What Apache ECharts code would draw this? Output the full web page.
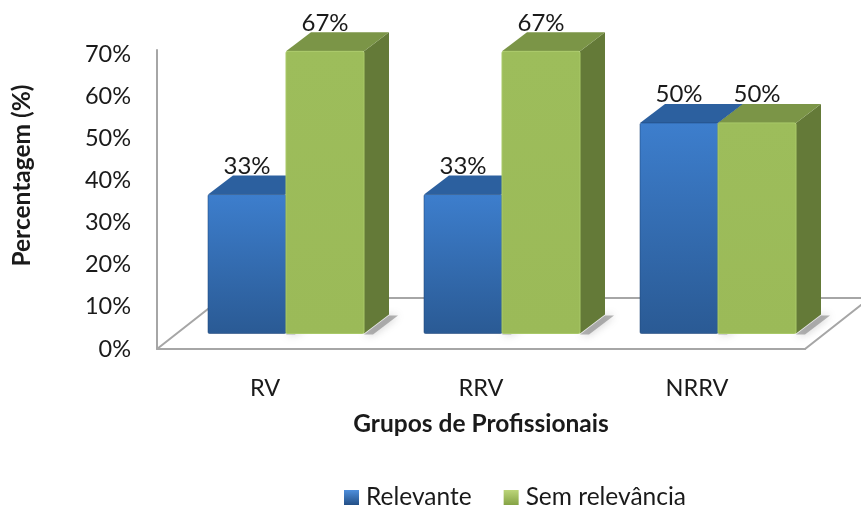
<!DOCTYPE html>
<html>
<head>
<meta charset="utf-8">
<style>html,body{margin:0;padding:0;background:#fff}#c{width:861px;height:506px}</style>
<script src="https://cdn.jsdelivr.net/npm/echarts@6/dist/echarts.min.js"></script>
</head>
<body>
<div id="c"></div>
<script>
const categories = ['RV', 'RRV', 'NRRV'];
const relevante = [33, 33, 50];
const semRelevancia = [67, 67, 50];
const yTicks = [0, 10, 20, 30, 40, 50, 60, 70];
const FONT = 'Lato, sans-serif';

const DX = 25, DY = 19, LIFT = 15.5, BAR = 78;

const chart = echarts.init(document.getElementById('c'), null, {renderer: 'canvas'});

function grad(a, b) {
  return new echarts.graphic.LinearGradient(0, 0, 0, 1, [{offset: 0, color: a}, {offset: 1, color: b}]);
}
const styleBlue = {front: grad('#3d7ecd', '#2a5a94'), top: '#2c609f', side: '#264f80', edge: 'rgba(30,70,120,0.55)', shadowLeft: 10};
const styleGreen = {front: grad('#9dbd5b', '#9bba58'), top: '#7b9547', side: '#647a38', edge: '#a9c968', shadowLeft: 0};

function barRender(shift, look) {
  return function (params, api) {
    const idx = api.value(0);
    const p0 = api.coord([idx, 0]);
    const p1 = api.coord([idx, api.value(1)]);
    const x0 = p0[0] + shift;
    const x1 = x0 + BAR;
    const yb = p0[1] - LIFT;
    const yt = p1[1] - LIFT;
    const floorShadow = {
      type: 'polygon',
      shape: {points: [[x0 - look.shadowLeft, yb + 1], [x1, yb + 1], [x1 + DX, yb - DY + 1], [x1 + DX + 9, yb - DY + 1], [x1 + 9, yb + 1]]},
      style: {fill: 'rgba(110,110,110,0.5)', shadowBlur: 8, shadowColor: 'rgba(110,110,110,0.8)'},
      z2: 1
    };
    return {
      type: 'group',
      children: [
        floorShadow,
        {type: 'polygon', z2: 2, shape: {points: [[x1, yt], [x1 + DX, yt - DY], [x1 + DX, yb - DY], [x1, yb]]}, style: {fill: look.side}},
        {type: 'polygon', z2: 2, shape: {points: [[x0, yt], [x0 + DX, yt - DY], [x1 + DX, yt - DY], [x1, yt]]}, style: {fill: look.top}},
        {type: 'rect', z2: 3, shape: {x: x0, y: yt, width: BAR, height: yb - yt, r: 1.5}, style: {fill: look.front, stroke: look.edge, lineWidth: 1}},
        {type: 'text', z2: 10, style: {text: api.value(1) + '%', x: (x0 + x1) / 2, y: yt - 28.5, align: 'center', verticalAlign: 'middle', fill: '#1a1a1a', font: '24px ' + FONT}}
      ]
    };
  };
}

function floorRender(params, api) {
  const a = api.coord([0, 0]);
  const size = api.size([1, 0]);
  const left = a[0] - size[0] / 2;
  const right = left + size[0] * categories.length;
  const y = a[1];
  const dx = 65, dy = 51;
  return {
    type: 'polyline', silent: true,
    shape: {points: [[left, y], [left + dx, y - dy], [right + dx, y - dy], [right, y], [left, y]]},
    style: {fill: 'none', stroke: '#a6a6a6', lineWidth: 2}
  };
}

chart.setOption({
  animation: false,
  backgroundColor: '#fff',
  grid: {left: 157, right: 56, top: 50, bottom: 157, containLabel: false},
  xAxis: {
    type: 'category', data: categories,
    name: 'Grupos de Profissionais', nameLocation: 'middle', nameGap: 63,
    nameTextStyle: {fontFamily: FONT, fontWeight: 'bold', fontSize: 24.5, color: '#1a1a1a'},
    axisLine: {lineStyle: {color: '#a6a6a6', width: 2}},
    axisTick: {show: false},
    axisLabel: {fontFamily: FONT, fontSize: 23.5, color: '#1a1a1a', margin: 27}
  },
  yAxis: {
    type: 'value', min: 0, max: 71,
    name: 'Percentagem (%)', nameLocation: 'middle', nameGap: 122, nameRotate: 90,
    nameTextStyle: {fontFamily: FONT, fontWeight: 'bold', fontSize: 24.5, color: '#1a1a1a', padding: [0, 0, 0, 48]},
    axisLine: {show: true, lineStyle: {color: '#a6a6a6', width: 2}},
    axisTick: {show: false},
    splitLine: {show: false},
    axisLabel: {fontFamily: FONT, fontSize: 23.5, color: '#1a1a1a', margin: 26, padding: [0, 0, 4, 0],
      customValues: yTicks, formatter: '{value}%'}
  },
  legend: {
    left: 339, top: 480, itemWidth: 15, itemHeight: 15, itemGap: 32, icon: 'rect',
    textStyle: {fontFamily: FONT, fontSize: 24.5, color: '#1a1a1a', padding: [0, 0, 0, 2]},
    data: [
      {name: 'Relevante', itemStyle: {color: grad('#4f8fdc', '#234f86')}},
      {name: 'Sem relevância', itemStyle: {color: grad('#bcd57a', '#85a345')}}
    ]
  },
  series: [
    {type: 'custom', silent: true, z: 1, legendHoverLink: false, renderItem: floorRender, data: [[0, 0]], encode: {x: 0, y: 1}},
    {name: 'Relevante', type: 'custom', z: 2, renderItem: barRender(-57, styleBlue), itemStyle: {color: '#2f69ae'},
      data: relevante.map((v, i) => [i, v]), encode: {x: 0, y: 1}},
    {name: 'Sem relevância', type: 'custom', z: 3, renderItem: barRender(21, styleGreen), itemStyle: {color: '#9bbb59'},
      data: semRelevancia.map((v, i) => [i, v]), encode: {x: 0, y: 1}}
  ]
});
</script>
</body>
</html>
